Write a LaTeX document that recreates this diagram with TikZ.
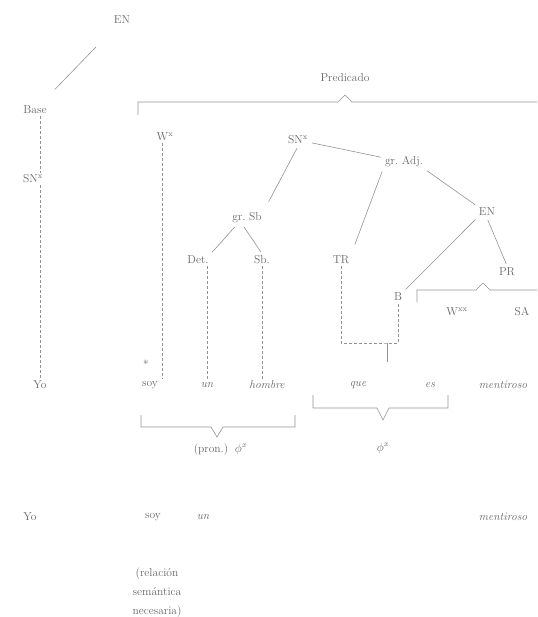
\documentclass[tikz,border=0pt]{standalone}
\usepackage{tikz}
\usetikzlibrary{positioning}
\definecolor{ink700}{HTML}{666666}
\definecolor{ink400}{HTML}{939393}
\tikzset{
  lbl/.style ={font=\fontsize{11.5}{13}\selectfont, text=ink700, inner sep=2pt},
  wrd/.style ={lbl, font=\fontsize{11.5}{13}\selectfont\itshape},
  br/.style  ={draw=ink400, line width=0.6pt, shorten <=2pt, shorten >=2pt},
  dsh/.style ={draw=ink400, line width=0.6pt, dash pattern=on 3pt off 2pt},
  brk/.style ={draw=ink400, line width=0.6pt}
}

\begin{document}
\begin{tikzpicture}[x=1pt,y=-1pt]
\useasboundingbox (0,0) rectangle (537,617);
% left column: the subject
\node[lbl] (en0)  at (122,20)  {EN};
\node[lbl] (base) at (35,110)  {Base};
\node[lbl] (snL)  at (33,179)  {SN\textsuperscript{x}};
\node[lbl] (yo)   at (40,385)  {Yo};
\draw[br, shorten <=29pt, shorten >=20pt] (en0) -- (base);
\draw[dsh] (base.south -| yo) -- (snL.north -| yo);
\draw[dsh] (snL.south -| yo) -- (yo.north);

% the predicate bracket
\node[lbl] (pred) at (345,78) {Predicado};
\draw[brk] (138,115) -- (138,102) -- (338,102) -- (345,95) -- (352,102) -- (537,102);

\node[lbl] (w1)  at (165,137) {W\textsuperscript{x}};
\node[lbl] (soy) at (150,385) {soy};
\node[lbl] (ast) at (146,364) {*};
\draw[dsh] ([xshift=-3pt]w1.south) -- ([xshift=-3pt]w1.south |- soy.north);

% the predicate noun phrase
\node[lbl] (sn2)   at (298,140) {SN\textsuperscript{x}};
\node[lbl] (gradj) at (404,162) {gr.~Adj.};
\node[lbl] (grsb)  at (247,218) {gr.~Sb};
\node[lbl] (det)   at (198,260) {Det.};
\node[lbl] (sb)    at (262,260) {Sb.};
\node[lbl] (tr)    at (341,260) {TR};
\node[lbl] (en1)   at (487,212) {EN};
\node[lbl] (b)     at (398,297) {B};
\node[lbl] (pr)    at (507,272) {PR};
\node[lbl] (w2)    at (457,312) {W\textsuperscript{xx}};
\node[lbl] (sa)    at (522,312) {SA};

\draw[br] (sn2) -- (gradj);
\draw[br, shorten >=10pt] (sn2.south) -- (grsb.north east);
\draw[br] ([xshift=6pt]grsb.south west) -- (det.north east);
\draw[br] ([xshift=-4pt]grsb.south) -- (sb.north);
\draw[br, shorten >=10pt] (gradj.south west) -- (tr.north east);
\draw[br] (gradj.south east) -- (en1.north west);
\draw[br] (en1.south west) -- (b.north east);
\draw[br] (en1.south) -- (pr.north);
\draw[brk] (417,302) -- (417,290) -- (476,290) -- (483,283) -- (490,290) -- (537,290);

% relative clause joins TR and B
\coordinate (qj)    at (387,343);
\coordinate (qjend) at (387,362);
\draw[dsh] (tr.south) |- (qj) -| (b.south);
\draw[brk] (qj) -- (qjend);

% first sentence
\node[wrd] (un)     at (207,385) {un};
\node[wrd] (hombre) at (267,385) {hombre};
\node[wrd] (que)    at (358,385) {que};
\node[wrd] (es)     at (430,385) {es};
\node[wrd] (ment)   at (503,385) {mentiroso};
\draw[dsh] (det.south -| un) -- (un.north);
\draw[dsh] (sb.south) -- (sb.south |- hombre.north);

\draw[brk] (141,415) -- (141,427) -- (211,427) -- (217,437) -- (223,427) -- (295,427) -- (295,415);
\draw[brk] (313,395) -- (313,408) -- (377,408) -- (383,420) -- (389,408) -- (448,408) -- (448,395);
\node[lbl] (pron) at (211,450) {(pron.)};
\node[lbl] (phiA) at (241,449) {$\phi^{x}$};
\node[lbl] (phiB) at (383,448) {$\phi^{x}$};

% second sentence
\node[lbl] (yo2)   at (30,517)  {Yo};
\node[lbl] (soy2)  at (153,517) {soy};
\node[wrd] (un2)   at (203,517) {un};
\node[wrd] (ment2) at (503,517) {mentiroso};

\node[lbl, align=center, font=\fontsize{11.5}{19}\selectfont] (rel) at (157,593)
  {(relación\\ semántica\\ necesaria)};
\end{tikzpicture}
\end{document}
